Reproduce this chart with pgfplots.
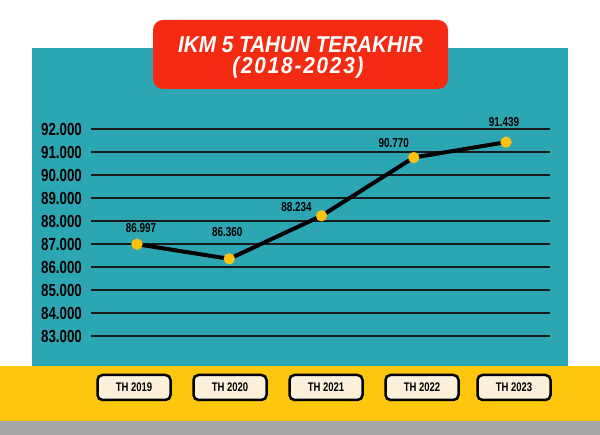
\documentclass[border=0pt]{standalone}
\usepackage{pgfplots}
\pgfplotsset{compat=1.18}
\usepackage{fontspec}
\setmainfont{Liberation Sans}
\newfontfamily\cond[FakeStretch=0.76]{Liberation Sans}
\newfontfamily\titlefont[FakeStretch=0.9]{Liberation Sans}
\newfontfamily\titlefontb[FakeStretch=0.9,LetterSpace=8]{Liberation Sans}

\definecolor{teal1}{HTML}{2CA6B3}
\definecolor{red1}{HTML}{F52A12}
\definecolor{yellow1}{HTML}{FEC60C}
\definecolor{gray1}{HTML}{A6A6A6}
\definecolor{cream}{HTML}{FDF0DA}
\definecolor{dot}{HTML}{FFC20E}

\pgfplotstableread{
x y dx dy lab
0 86.997 4 16 86.997
1 86.360 -2 27 86.360
2 88.234 -25 9 88.234
3 90.770 -20 15 90.770
4 91.439 -2 20 91.439
}\ikm

\begin{document}
\begin{tikzpicture}[x=1pt,y=1pt]
  \path[use as bounding box] (0,0) rectangle (600,435);
  \fill[white] (0,0) rectangle (600,435);
  % background panels
  \fill[teal1] (32,69) rectangle (568,387);
  \fill[yellow1] (0,14) rectangle (600,69);
  \fill[gray1] (0,0) rectangle (600,14);
  % title box
  \fill[red1, rounded corners=10pt] (153,346) rectangle (448,415);
  \node[white, font=\titlefont\bfseries\itshape\fontsize{23}{26}\selectfont] at (300.5,390) {IKM 5 TAHUN TERAKHIR};
  \node[white, font=\titlefontb\bfseries\itshape\fontsize{23}{26}\selectfont] at (298,367) {(2018-2023)};
  % year buttons
  \foreach \cx/\yr in {134/2019, 230/2020, 326/2021, 422/2022, 514/2023} {
    \node[draw=black, line width=2.5pt, fill=cream, rounded corners=5pt,
          minimum width=73pt, minimum height=25pt, inner sep=0pt,
          font=\cond\bfseries\fontsize{12.5}{14}\selectfont] at (\cx,47.5) {TH \yr};
  }

  \begin{axis}[
      at={(91pt,99pt)}, anchor=south west,
      scale only axis, width=459pt, height=206.7pt,
      xmin=-0.4986, xmax=4.477, ymin=83, ymax=92,
      clip=false,
      axis line style={draw=none},
      tick style={draw=none},
      xtick=\empty,
      ytick={83,84,...,92},
      ymajorgrids,
      major grid style={black!90, line width=1.6pt},
      yticklabel style={anchor=east, inner sep=0pt, xshift=-9pt,
        font=\cond\bfseries\fontsize{17.5}{19}\selectfont},
      /pgf/number format/.cd, fixed, fixed zerofill, precision=3, assume math mode=true,
    ]
    \addplot[black, line width=4pt, line join=round,
      mark=*, mark size=5.5pt, mark options={fill=dot, draw=dot, line width=0.2pt},
      visualization depends on={\thisrow{dx}\as\dx},
      visualization depends on={\thisrow{dy}\as\dy},
      point meta=explicit symbolic,
      nodes near coords,
      nodes near coords style={anchor=center, inner sep=0pt, black,
        xshift=\dx*1pt, yshift=\dy*1pt,
        font=\cond\bfseries\fontsize{13}{15}\selectfont},
    ] table[x=x, y=y, meta=lab] {\ikm};
  \end{axis}
\end{tikzpicture}
\end{document}
